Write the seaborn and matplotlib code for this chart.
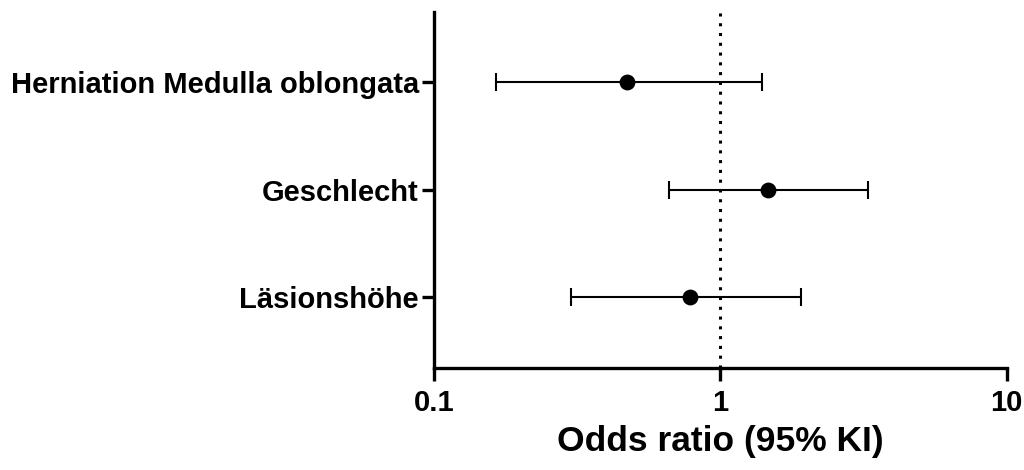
import matplotlib
matplotlib.use("Agg")
import matplotlib.pyplot as plt
import seaborn as sns
import pandas as pd
import numpy as np

categories = ["Herniation Medulla oblongata", "Geschlecht", "Läsionshöhe"]
odds_ratio = [0.47, 1.47, 0.78]
ci_low = [0.165, 0.66, 0.30]
ci_high = [1.40, 3.29, 1.92]
xticks = [0.1, 1, 10]
xtick_labels = ["0.1", "1", "10"]

sns.set_style("white")
plt.rcParams['font.family'] = ['Liberation Sans', 'DejaVu Sans']
plt.rcParams['text.color'] = 'black'
plt.rcParams['xtick.color'] = 'black'
plt.rcParams['ytick.color'] = 'black'
plt.rcParams['axes.labelcolor'] = 'black'

df = pd.DataFrame({"cat": categories, "or": odds_ratio, "lo": ci_low, "hi": ci_high})
df["pos"] = np.arange(len(df))

fig = plt.figure(figsize=(10.24, 4.70), dpi=100)
ax = fig.add_axes([0.424, 0.217, 0.559, 0.757])

ax.axvline(1, color="black", linestyle=(0, (1, 2.2)), linewidth=2.2, zorder=1)
ax.errorbar(df["or"], df["pos"],
            xerr=[df["or"] - df["lo"], df["hi"] - df["or"]],
            fmt="none", ecolor="black", elinewidth=1.5, capsize=6.5, capthick=1.5, zorder=2)
sns.scatterplot(data=df, x="or", y="pos", ax=ax, color="black", s=130,
                edgecolor="black", linewidth=0, zorder=3, legend=False)

ax.set_xscale("log")
ax.set_xlim(0.1, 10)
ax.set_ylim(2.66, -0.65)
ax.set_xticks(xticks)
ax.set_xticklabels(xtick_labels)
ax.minorticks_off()
ax.set_yticks(df["pos"])
ax.set_yticklabels(categories)

for s in ["top", "right"]:
    ax.spines[s].set_visible(False)
for s in ["left", "bottom"]:
    ax.spines[s].set_linewidth(2.4)
    ax.spines[s].set_color("black")

ax.tick_params(axis="both", which="major", width=2.4, length=9, color="black",
               direction="out", labelsize=21, pad=2, bottom=True, left=True,
               labelcolor="black")
ax.tick_params(axis="x", pad=6)
for lab in ax.get_xticklabels() + ax.get_yticklabels():
    lab.set_fontweight("bold")

ax.set_xlabel("Odds ratio (95% KI)", fontsize=25.5, fontweight="bold", labelpad=6,
              color="black")
ax.set_ylabel("")

fig.savefig("out.png", dpi=100)
